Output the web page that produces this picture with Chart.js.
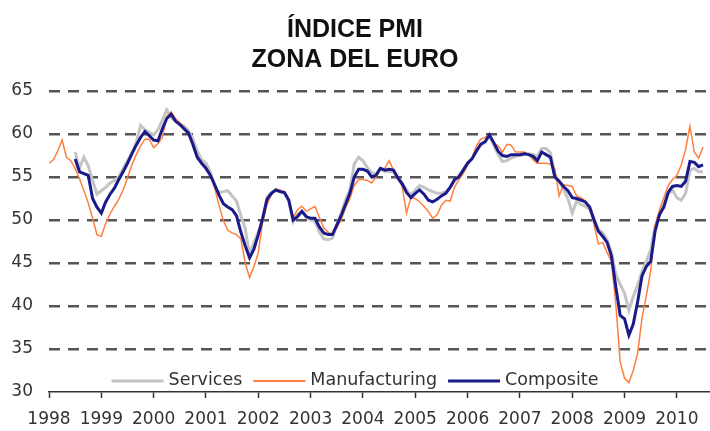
<!DOCTYPE html>
<html>
<head>
<meta charset="utf-8">
<script src="https://cdn.jsdelivr.net/npm/chart.js@4.4.0/dist/chart.umd.min.js"></script>
<style>
  body { margin: 0; background: #fff; }
</style>
</head>
<body>
<canvas id="myChart" width="710" height="431"></canvas>
<script>
//******Datos: PMI zona euro, mensual desde ene 1998******

var anioInicio = 1998;
var anios = [1998, 1999, 2000, 2001, 2002, 2003, 2004, 2005, 2006, 2007, 2008, 2009, 2010];
var ejeY = [30, 35, 40, 45, 50, 55, 60, 65];

var manufacturing = [
    56.6, 57.0, 58.0, 59.3, 57.3, 56.9, 56.0, 54.8, 53.4, 52.0, 50.2, 48.3,
    48.1, 49.6, 50.7, 51.6, 52.4, 53.5, 54.9, 56.4, 57.6, 58.6, 59.4, 59.4,
    58.4, 58.9, 59.6, 62.0, 62.6, 61.8, 61.3, 60.8, 60.0, 58.5, 57.2, 56.6,
    56.2, 55.2, 53.7, 51.7, 49.9, 48.8, 48.5, 48.3, 47.8, 45.0, 43.3, 44.6,
    46.2, 49.8, 51.8, 52.9, 53.6, 53.5, 53.3, 52.4, 50.3, 51.2, 51.6, 51.0,
    51.3, 51.6, 50.3, 49.1, 48.6, 48.3, 49.1, 50.0, 51.4, 52.5, 54.0, 54.7,
    54.7, 54.6, 54.3, 55.0, 56.0, 56.0, 56.9, 55.8, 54.8, 53.9, 50.8, 52.6,
    52.5, 52.1, 51.6, 51.0, 50.2, 50.6, 51.7, 52.3, 52.2, 53.8, 54.7, 55.4,
    56.4, 57.2, 58.6, 59.4, 59.6, 59.9, 59.0, 58.6, 57.9, 58.8, 58.7, 57.9,
    57.9, 57.9, 57.6, 57.0, 56.6, 56.6, 56.6, 56.5, 56.0, 52.8, 54.1, 54.0,
    53.9, 52.8, 52.6, 52.2, 51.3, 49.5, 47.2, 47.4, 46.2, 45.2, 40.2, 33.5,
    31.6, 31.1, 32.5, 34.5, 38.6, 41.2, 44.1, 49.3, 51.2, 52.6, 54.0, 54.7,
    55.2, 56.4, 58.2, 60.9, 57.9, 57.2, 58.5
];

var services = [
    null, null, null, null, null, null, 57.9, 56.0, 57.3, 56.3, 54.6, 53.0,
    53.4, 53.8, 54.3, 54.6, 55.0, 56.0, 56.9, 57.8, 59.0, 61.0, 60.5, 60.2,
    59.9, 60.5, 61.6, 62.8, 61.9, 61.5, 61.2, 60.9, 60.4, 59.4, 58.0, 57.0,
    56.6, 55.6, 53.9, 53.2, 53.3, 53.4, 52.8, 52.2, 50.5, 49.0, 46.0, 47.4,
    48.6, 50.0, 52.7, 53.2, 53.4, 53.3, 53.2, 52.2, 49.8, 50.6, 51.0, 50.3,
    50.0, 49.8, 48.6, 47.8, 47.7, 47.9, 49.4, 50.8, 52.3, 53.5, 56.5, 57.3,
    56.9, 56.1, 55.5, 55.3, 56.0, 55.7, 55.6, 55.6, 54.9, 54.3, 53.5, 52.9,
    53.5, 54.0, 53.8, 53.5, 53.3, 53.1, 53.1, 53.3, 53.8, 54.5, 55.2, 55.8,
    56.6, 57.1, 58.0, 58.7, 59.0, 59.8, 58.7, 57.6, 56.8, 56.9, 57.2, 57.4,
    57.5, 57.6, 57.7, 57.6, 57.4, 58.3, 58.3, 57.8, 55.3, 54.5, 53.6, 52.5,
    50.8, 52.2, 51.8, 51.6, 51.2, 50.2, 48.9, 48.5, 47.7, 46.2, 43.7, 42.5,
    41.5, 39.5, 41.1, 42.4, 44.0, 45.2, 46.5, 49.3, 50.7, 51.8, 53.0, 53.5,
    52.6, 52.3, 53.1, 55.8, 56.0, 55.6, 55.6
];

var composite = [
    null, null, null, null, null, null, 57.1, 55.6, 55.4, 55.2, 52.5, 51.5,
    50.8, 52.1, 53.0, 53.7, 54.7, 55.6, 56.6, 57.7, 58.7, 59.6, 60.3, 59.8,
    59.3, 59.2, 60.6, 61.8, 62.3, 61.5, 61.1, 60.6, 60.1, 58.8, 57.3, 56.6,
    56.0, 55.2, 54.1, 52.9, 51.9, 51.5, 51.2, 50.5, 48.6, 47.0, 45.6, 46.6,
    48.3, 50.2, 52.4, 53.1, 53.5, 53.3, 53.2, 52.3, 50.0, 50.4, 51.0, 50.4,
    50.2, 50.2, 49.2, 48.5, 48.3, 48.3, 49.4, 50.5, 51.8, 53.1, 55.0, 55.9,
    55.9, 55.7, 55.0, 55.2, 56.0, 55.8, 55.9, 55.8, 54.9, 54.2, 53.2, 52.6,
    53.1, 53.5, 53.0, 52.3, 52.1, 52.4, 52.8, 53.1, 53.8, 54.7, 55.0, 55.8,
    56.6, 57.1, 58.0, 58.8, 59.1, 59.9, 59.0, 58.0, 57.5, 57.4, 57.6, 57.6,
    57.6, 57.7, 57.6, 57.4, 56.9, 57.9, 57.6, 57.3, 55.0, 54.5, 53.9, 53.4,
    52.6, 52.5, 52.3, 52.1, 51.5, 50.0, 48.7, 48.1, 47.4, 45.8, 42.2, 38.9,
    38.5, 36.6, 37.9, 40.5, 43.5, 44.6, 45.2, 48.7, 50.6, 51.5, 53.2, 53.9,
    54.0, 53.9, 54.5, 56.8, 56.7, 56.2, 56.4
];

// meses como año decimal para el eje lineal
var meses = manufacturing.map(function(v, i) { return anioInicio + i / 12; });

Chart.defaults.font.family = "'DejaVu Sans', sans-serif";
Chart.defaults.color = '#333';

/******Leyenda dentro del área, centrada******/
var leyendaAbajo = {
    id: 'leyendaAbajo',
    afterDraw: function(chart) {
        var ctx = chart.ctx;
        var y = 380;
        var largo = 52, hueco = 5, sep = 11;
        ctx.save();
        ctx.font = '17.5px "DejaVu Sans"';
        var sets = chart.data.datasets;
        var total = 0;
        sets.forEach(function(ds, i) {
            total += largo + hueco + ctx.measureText(ds.label).width;
            if (i < sets.length - 1) total += sep;
        });
        var x = chart.width / 2 - total / 2;
        ctx.textBaseline = 'middle';
        sets.forEach(function(ds) {
            ctx.strokeStyle = ds.borderColor;
            ctx.lineWidth = ds.label == 'Manufacturing' ? 2 : 3;
            ctx.beginPath();
            ctx.moveTo(x, y + 1);
            ctx.lineTo(x + largo, y + 1);
            ctx.stroke();
            x += largo + hueco;
            ctx.fillStyle = '#333';
            ctx.fillText(ds.label, x, y);
            x += ctx.measureText(ds.label).width + sep;
        });
        ctx.restore();
    }
};

var ctx = document.getElementById('myChart').getContext('2d');
var myChart = new Chart(ctx, {
    type: 'line',
    data: {
        labels: meses,
        datasets: [{
            label: 'Services',
            data: services,
            borderColor: '#c4c4c4',
            borderWidth: 3,
            order: 3
        },
        {
            label: 'Manufacturing',
            data: manufacturing,
            borderColor: '#ff7f3f',
            borderWidth: 1.5,
            order: 2
        },
        {
            label: 'Composite',
            data: composite,
            borderColor: '#1a1a8a',
            borderWidth: 3,
            order: 1
        }]
    },
    options: {
        responsive: false,
        animation: false,
        elements: {
            point: { radius: 0 },
            line: { tension: 0 }
        },
        layout: {
            padding: { left: 0, right: 0, top: 0, bottom: 0 }
        },
        scales: {
            x: {
                type: 'linear',
                min: anios[0],
                max: 2010.62,
                afterFit: function(scale) { scale.height = 39; },
                ticks: {
                    stepSize: 1,
                    includeBounds: false,
                    padding: 11.5,
                    color: '#333',
                    font: { size: 17 },
                    maxRotation: 0,
                    autoSkip: false,
                    callback: function(v) { return anios.indexOf(v) >= 0 ? String(v) : ''; }
                },
                grid: {
                    drawOnChartArea: false,
                    drawTicks: true,
                    tickLength: 6,
                    tickColor: '#333',
                    tickWidth: 1.5
                },
                border: { display: true, color: '#333', width: 1.5 }
            },
            y: {
                min: ejeY[0],
                max: ejeY[ejeY.length - 1],
                afterFit: function(scale) { scale.width = 49; },
                ticks: {
                    stepSize: 5,
                    padding: 16,
                    color: '#333',
                    font: { size: 17 }
                },
                grid: {
                    drawTicks: false,
                    lineWidth: 2.5,
                    borderDash: [11, 8],
                    color: function(c) { return c.tick && c.tick.value == ejeY[0] ? 'rgba(0,0,0,0)' : '#555'; }
                },
                border: { display: false, dash: [11, 8] }
            }
        },
        plugins: {
            legend: { display: false },
            tooltip: { enabled: false },
            title: {
                display: true,
                text: ['ÍNDICE PMI', 'ZONA DEL EURO'],
                color: '#111',
                font: { family: "'Liberation Sans', Arial, sans-serif", size: 25, weight: 'bold', lineHeight: 1.2 },
                padding: { top: 15, bottom: 16 }
            }
        }
    },
    plugins: [leyendaAbajo]
});
</script>
</body>
</html>
